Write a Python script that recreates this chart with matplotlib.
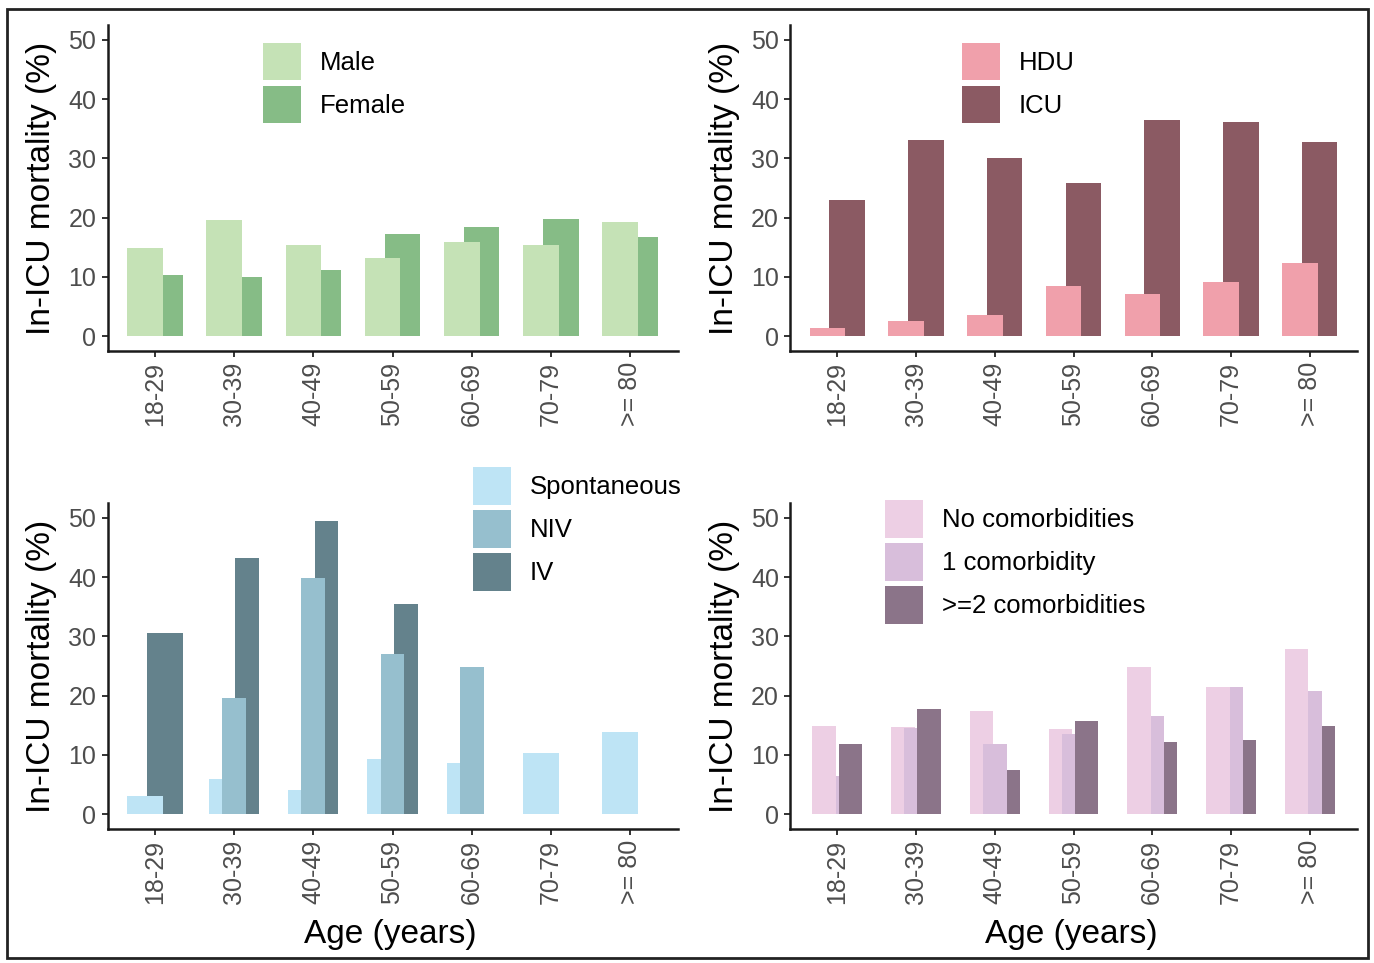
import numpy as np
import matplotlib
matplotlib.use("Agg")
import matplotlib.pyplot as plt
from matplotlib.patches import Rectangle

nan = np.nan

# ---------------- data ----------------
ages = ["18-29", "30-39", "40-49", "50-59", "60-69", "70-79", ">= 80"]

sex_labels = ["Male", "Female"]
male = [14.9, 19.6, 15.4, 13.2, 15.9, 15.3, 19.2]
female = [10.4, 10.0, 11.2, 17.2, 18.4, 19.8, 16.8]

unit_labels = ["HDU", "ICU"]
hdu = [1.4, 2.6, 3.5, 8.5, 7.1, 9.2, 12.3]
icu = [22.9, 33.1, 30.1, 25.9, 36.5, 36.1, 32.8]

vent_labels = ["Spontaneous", "NIV", "IV"]
spont = [3.0, 6.0, 4.1, 9.3, 8.6, 10.4, 13.9]
niv = [nan, 19.6, 39.8, 27.1, 24.9, 0.0, 0.0]
iv = [30.6, 43.3, 49.4, 35.5, 0.0, nan, nan]

comorb_labels = ["No comorbidities", "1 comorbidity", ">=2 comorbidities"]
no_com = [14.8, 14.7, 17.4, 14.3, 24.9, 21.4, 27.9]
one_com = [6.4, 14.5, 11.8, 13.5, 16.6, 21.4, 20.8]
two_com = [11.8, 17.8, 7.4, 15.8, 12.1, 12.5, 14.8]

yticks = [0, 10, 20, 30, 40, 50]

# ---------------- styles ----------------
W, H = 1374, 963
plt.rcParams['font.family'] = ['Liberation Sans', 'DejaVu Sans']
fig = plt.figure(figsize=(W / 100, H / 100), dpi=100)

TICK_FS = 18
LEG_FS = 18.5
TITLE_FS = 24

# drawing (stacking) order of overlapping bars, bottom -> top
sex_order = [1, 0]
unit_order = [1, 0]
vent_order = [2, 0, 1]
comorb_order = [[1, 0, 2], [0, 1, 2], [0, 2, 1], [0, 1, 2],
                [2, 1, 0], [2, 1, 0], [2, 1, 0]]


def px_rect(x0, y0, x1, y1):
    return [x0 / W, 1 - y1 / H, (x1 - x0) / W, (y1 - y0) / H]


def draw_legend(labels, colors, leg_xy):
    kx, ky = leg_xy
    key_w, key_h, step, text_dx = 38, 37.5, 43, 57
    for i, (lab, col) in enumerate(zip(labels, colors)):
        top = ky + i * step
        fig.patches.append(Rectangle((kx / W, 1 - (top + key_h) / H),
                                     key_w / W, key_h / H,
                                     transform=fig.transFigure,
                                     facecolor=col, edgecolor='none'))
        fig.text((kx + text_dx) / W, 1 - (top + key_h / 2 + 1) / H, lab,
                 ha='left', va='center', fontsize=LEG_FS, color='black')


def panel(rect, series, labels, colors, order, leg_xy, show_xlabel):
    ax = fig.add_axes(px_rect(*rect))
    n_cat = len(ages)
    x = np.arange(1, n_cat + 1)
    arr = np.array(series, dtype=float)  # shape (n_series, n_cat)
    dodge_w = 0.5
    geom_w = 0.9
    for j in range(n_cat):
        present = [i for i in range(arr.shape[0]) if not np.isnan(arr[i, j])]
        n = len(present)
        grp_order = order[j] if isinstance(order[0], list) else order
        for i in grp_order:
            if i not in present:
                continue
            k = present.index(i)
            off = dodge_w * ((k + 0.5) / n - 0.5)
            ax.bar(x[j] + off, arr[i, j], width=geom_w / n, color=colors[i],
                   linewidth=0, zorder=2)
    ax.set_xlim(0.4, n_cat + 0.6)
    ax.set_ylim(-2.5, 52.5)
    ax.set_yticks(yticks)
    ax.set_xticks(x)
    ax.set_xticklabels(ages, rotation=90)
    for s in ['top', 'right']:
        ax.spines[s].set_visible(False)
    for s in ['left', 'bottom']:
        ax.spines[s].set_linewidth(1.8)
        ax.spines[s].set_color('#1a1a1a')
    ax.tick_params(axis='both', length=4, width=1.4, color='#333333',
                   labelsize=TICK_FS, labelcolor='#4d4d4d', pad=4)
    cx = rect[0] - 66
    cy = (rect[1] + rect[3]) / 2
    fig.text(cx / W, 1 - cy / H, "In-ICU mortality (%)", rotation=90,
             ha='center', va='center', fontsize=TITLE_FS, color='black')
    if show_xlabel:
        fig.text(((rect[0] + rect[2]) / 2 - 2) / W, 1 - 934 / H, "Age (years)",
                 ha='center', va='center', fontsize=TITLE_FS, color='black')
    draw_legend(labels, colors, leg_xy)
    return ax


panel((107.5, 25, 677.5, 351), [male, female], sex_labels,
      ['#c5e2b6', '#86bc86'], sex_order, (263, 43), False)
panel((790, 25, 1357, 351), [hdu, icu], unit_labels,
      ['#f0a0ab', '#8b5a63'], unit_order, (962, 43), False)
panel((107.5, 503, 677.5, 829), [spont, niv, iv], vent_labels,
      ['#bee4f5', '#96bfce', '#64828c'], vent_order, (473, 467), True)
panel((790, 503, 1357, 829), [no_com, one_com, two_com], comorb_labels,
      ['#edcfe4', '#d8bedb', '#8b7489'], comorb_order, (885, 500), True)

# outer frame
fig.patches.append(Rectangle((7 / W, 1 - 958 / H), (1368 - 7) / W, (958 - 9) / H,
                             transform=fig.transFigure, fill=False,
                             edgecolor='#222222', linewidth=2.0))

fig.savefig("out.png", dpi=100)
